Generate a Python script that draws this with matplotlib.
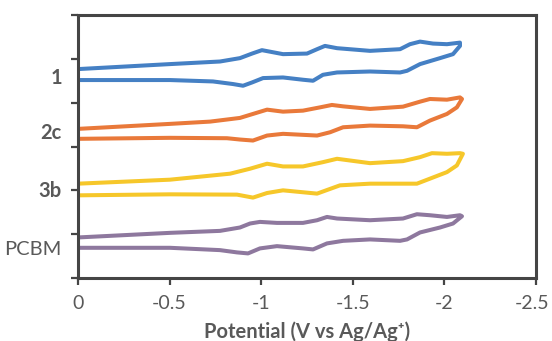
import matplotlib
matplotlib.use("Agg")
import matplotlib.pyplot as plt
from matplotlib.transforms import ScaledTranslation

# Potential (V vs Ag/Ag+) and offset current (arbitrary units) for each compound
pot_1 = [0.0, -0.502, -0.737, -0.846, -0.901, -0.950, -1.010, -1.119, -1.228, -1.283, -1.337, -1.414,
         -1.594, -1.758, -1.796, -1.867, -1.976, -2.047, -2.085,
         -2.085, -2.014, -1.938, -1.867, -1.812, -1.758, -1.594, -1.414, -1.348, -1.305, -1.250, -1.119,
         -1.004, -0.950, -0.884, -0.775, -0.502, 0.0]
cur_1 = [4.516, 4.516, 4.484, 4.425, 4.386, 4.461, 4.561, 4.575, 4.523, 4.500, 4.636, 4.689,
         4.711, 4.689, 4.727, 4.880, 5.016, 5.107, 5.295,
         5.370, 5.334, 5.348, 5.393, 5.334, 5.220, 5.182, 5.243, 5.295, 5.220, 5.120, 5.107,
         5.198, 5.120, 5.016, 4.939, 4.880, 4.766]

pot_2c = [0.0, -0.502, -0.813, -0.884, -0.955, -1.032, -1.119, -1.305, -1.376, -1.447, -1.594, -1.774,
          -1.850, -1.921, -2.014, -2.068, -2.096,
          -2.085, -2.014, -1.921, -1.867, -1.774, -1.594, -1.447, -1.386, -1.321, -1.228, -1.119,
          -1.032, -0.955, -0.884, -0.721, -0.502, 0.0]
cur_2c = [3.175, 3.198, 3.189, 3.159, 3.136, 3.250, 3.289, 3.250, 3.325, 3.439, 3.477, 3.461,
          3.439, 3.591, 3.743, 3.893, 4.084,
          4.120, 4.068, 4.084, 4.023, 3.909, 3.857, 3.916, 3.948, 3.893, 3.818, 3.795,
          3.841, 3.743, 3.652, 3.568, 3.516, 3.402]

pot_3b = [0.0, -0.502, -0.868, -0.955, -1.032, -1.119, -1.305, -1.365, -1.430, -1.594, -1.850,
          -1.921, -2.014, -2.068, -2.101,
          -2.085, -2.014, -1.932, -1.867, -1.774, -1.594, -1.414, -1.337, -1.228, -1.119, -1.032,
          -0.939, -0.830, -0.502, 0.0]
cur_3b = [1.886, 1.909, 1.902, 1.834, 1.939, 2.000, 1.925, 2.016, 2.114, 2.152, 2.152,
          2.266, 2.416, 2.568, 2.834,
          2.848, 2.834, 2.848, 2.757, 2.666, 2.620, 2.720, 2.643, 2.545, 2.545, 2.607,
          2.493, 2.380, 2.243, 2.152]

pot_pcbm = [0.0, -0.502, -0.775, -0.868, -0.928, -0.993, -1.086, -1.228, -1.283, -1.359, -1.447,
            -1.594, -1.758, -1.796, -1.867, -1.976, -2.047, -2.096,
            -2.085, -2.014, -1.921, -1.850, -1.774, -1.594, -1.414, -1.359, -1.305, -1.228, -1.086,
            -0.993, -0.939, -0.884, -0.775, -0.502, 0.0]
cur_pcbm = [0.689, 0.689, 0.636, 0.584, 0.561, 0.675, 0.727, 0.675, 0.652, 0.789, 0.848,
            0.880, 0.848, 0.880, 1.039, 1.152, 1.243, 1.409,
            1.432, 1.393, 1.432, 1.455, 1.357, 1.318, 1.357, 1.393, 1.318, 1.257, 1.257,
            1.280, 1.243, 1.152, 1.075, 1.030, 0.925]

labels = ["1", "2c", "3b", "PCBM"]
label_pos = [4.57, 3.30, 1.98, 0.64]
label_bold = [True, True, True, False]
x_ticks = [0, -0.5, -1, -1.5, -2, -2.5]
x_tick_labels = ["0", "-0.5", "-1", "-1.5", "-2", "-2.5"]

colors = ["#4580C4", "#E9793A", "#F6C72A", "#8E789E"]
series = [(pot_1, cur_1), (pot_2c, cur_2c), (pot_3b, cur_3b), (pot_pcbm, cur_pcbm)]

plt.rcParams['font.family'] = ['Lato', 'DejaVu Sans']

fig = plt.figure(figsize=(5.52, 3.41), dpi=100)
ax = fig.add_axes([78/552, 1 - 278/341, 458/552, 263/341])

for (p, c), col in zip(series, colors):
    ax.plot(p, c, color=col, lw=2.9, solid_joinstyle='round', solid_capstyle='round')

ax.set_xlim(0, -2.5)
ax.set_ylim(0, 6)
ax.set_xticks(x_ticks)
ax.set_xticklabels(x_tick_labels)
ax.set_yticks(range(0, 7))
ax.set_yticklabels([])

for s in ax.spines.values():
    s.set_color("#454545")
    s.set_linewidth(2.2)
ax.tick_params(axis='both', direction='out', length=5, width=1.6, color="#454545",
               labelcolor="#595959", labelsize=14)
ax.tick_params(axis='x', pad=7)

# keep the last tick label inside the canvas
last = ax.get_xticklabels()[-1]
last.set_transform(last.get_transform() + ScaledTranslation(-4/100, 0, fig.dpi_scale_trans))

for lab, y, b in zip(labels, label_pos, label_bold):
    ax.text(-0.035, y, lab, transform=ax.get_yaxis_transform(), ha='right', va='center',
            fontsize=14.5, color="#595959", fontweight='bold' if b else 'normal')

ax.set_xlabel("Potential (V vs Ag/Ag\u207a)", fontsize=14.5, fontweight='bold', color="#595959",
              labelpad=7)

fig.savefig("out.png", dpi=100)
